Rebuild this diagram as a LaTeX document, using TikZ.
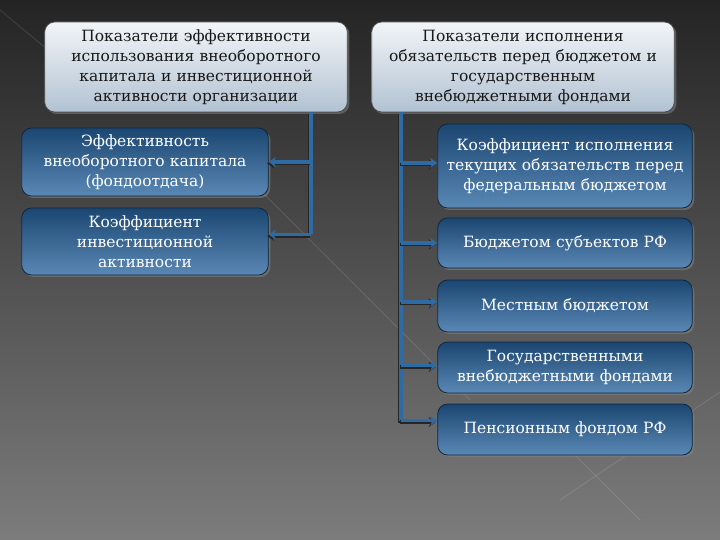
\documentclass[tikz,border=0pt]{standalone}
\usepackage{fontspec}
\setmainfont{DejaVu Serif}
\usetikzlibrary{shadows,arrows.meta}
\definecolor{bgtop}{HTML}{242424}
\definecolor{bgbot}{HTML}{7C7C7C}
\definecolor{bluetop}{HTML}{1B4672}
\definecolor{bluebot}{HTML}{5A88B4}
\definecolor{blueedge}{HTML}{10263D}
\definecolor{hdtop}{HTML}{F2F5F8}
\definecolor{hdbot}{HTML}{B2C2D2}
\definecolor{conncol}{HTML}{2F6BA3}
\tikzset{
  hdbox/.style={rounded corners=10pt, draw=black!70, line width=0.8pt,
    top color=hdtop, bottom color=hdbot, text=black!90,
    minimum width=302pt, minimum height=90pt, text width=296pt, align=center,
    font=\fontsize{15.5}{20}\selectfont,
    drop shadow={opacity=0.55, shadow xshift=2pt, shadow yshift=-2pt}},
  bluebox/.style={rounded corners=10pt, draw=blueedge, line width=0.8pt,
    top color=bluetop, bottom color=bluebot, text=white,
    align=center, font=\fontsize{15.5}{20}\selectfont,
    drop shadow={opacity=0.6, shadow xshift=2pt, shadow yshift=-2pt}},
  conn/.style={draw=conncol, line width=3.2pt,
    preaction={draw=black!85, line width=3.2pt, transform canvas={xshift=-1.5pt, yshift=-1.5pt}}},
  connarrow/.style={conn, -{Stealth[length=7pt,width=10pt]}},
  deco/.style={draw=white, opacity=0.12, line width=0.8pt}
}
\begin{document}
\begin{tikzpicture}[x=1pt,y=-1pt]
\useasboundingbox (0,0) rectangle (720,540);
\shade[top color=bgtop, bottom color=bgbot] (0,0) rectangle (720,540);
\draw[deco] (200,130) -- (470,400);
\draw[deco] (0,10) -- (60,60);
\draw[deco] (720,392) -- (560,500);
\draw[deco] (570,450) -- (640,520);

\node[hdbox] (h1) at (196,67) {Показатели эффективности\\использования внеоборотного\\капитала и инвестиционной\\активности организации};
\node[hdbox] (h2) at (523,67) {Показатели исполнения\\обязательств перед бюджетом и\\государственным\\внебюджетными фондами};

\node[bluebox, minimum width=246pt, minimum height=68pt, text width=240pt] (l1) at (145,162) {Эффективность\\внеоборотного капитала\\(фондоотдача)};
\node[bluebox, minimum width=246pt, minimum height=67pt, text width=240pt] (l2) at (145,241.5) {Коэффициент\\инвестиционной\\активности};

\node[bluebox, minimum width=254pt, minimum height=84pt, text width=248pt] (r1) at (565,166) {Коэффициент исполнения\\текущих обязательств перед\\федеральным бюджетом};
\node[bluebox, minimum width=254pt, minimum height=50pt, text width=248pt] (r2) at (565,243) {Бюджетом субъектов РФ};
\node[bluebox, minimum width=254pt, minimum height=52pt, text width=248pt] (r3) at (565,306) {Местным бюджетом};
\node[bluebox, minimum width=254pt, minimum height=51pt, text width=248pt] (r4) at (565,367.5) {Государственными\\внебюджетными фондами};
\node[bluebox, minimum width=254pt, minimum height=51pt, text width=248pt] (r5) at (565,429.5) {Пенсионным фондом РФ};

\coordinate (lv) at ([xshift=115pt]h1.south);
\coordinate (rv) at ([xshift=-122pt]h2.south);

\draw[conn] (lv) -- ++(0,122);
\draw[connarrow] (lv |- l1.east) -- (l1.east);
\draw[connarrow] ([yshift=7pt]l2.east -| lv) -- ([yshift=7pt]l2.east);

\draw[conn] (rv) -- ++(0,309);
\draw[connarrow] ([yshift=3pt]r1.west -| rv) -- ([yshift=3pt]r1.west);
\draw[connarrow] (r2.west -| rv) -- (r2.west);
\draw[connarrow] ([yshift=4pt]r3.west -| rv) -- ([yshift=4pt]r3.west);
\draw[connarrow] ([yshift=2pt]r4.west -| rv) -- ([yshift=2pt]r4.west);
\draw[connarrow] ([yshift=9pt]r5.west -| rv) -- ([yshift=9pt]r5.west);
\end{tikzpicture}
\end{document}
